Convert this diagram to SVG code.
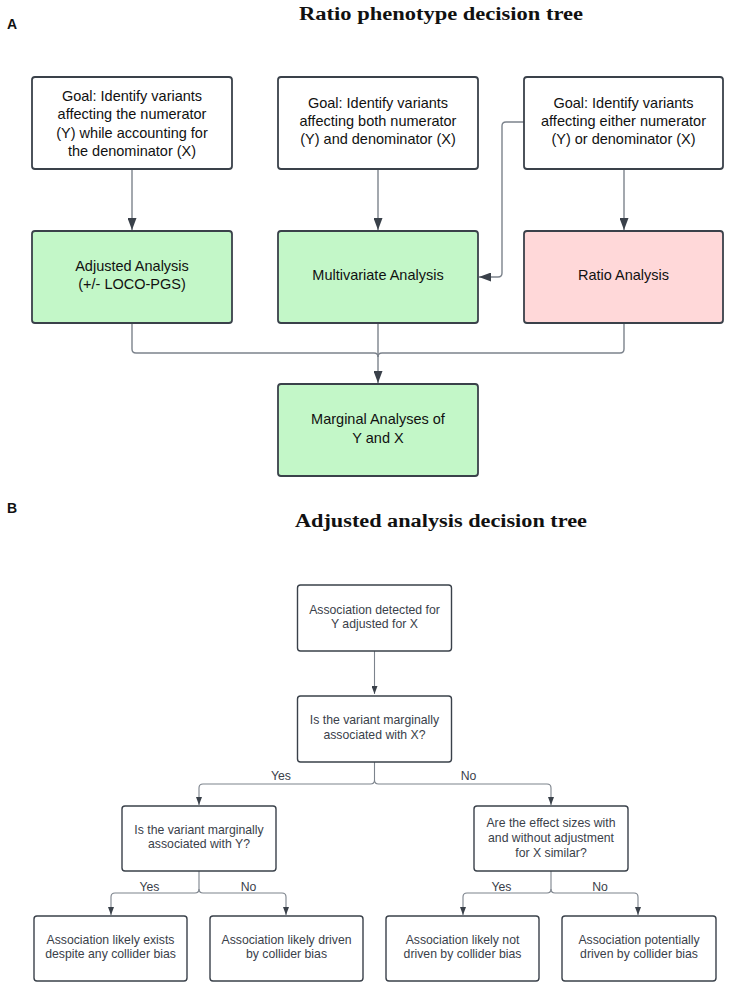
<svg xmlns="http://www.w3.org/2000/svg" width="729" height="988" viewBox="0 0 729 988">
<defs>
<style>
.bg{fill:#ffffff}
.title{font-family:"Liberation Serif","DejaVu Serif",serif;font-weight:bold;font-size:18px;fill:#111;text-anchor:middle}
.panel{font-family:"Liberation Sans","DejaVu Sans",sans-serif;font-weight:bold;font-size:14px;fill:#111}
.boxA{stroke:#3a414a;stroke-width:1.8;fill:#ffffff}
.green{fill:#c3f7c8}
.pink{fill:#ffd8d9}
.tA{font-family:"Liberation Sans","DejaVu Sans",sans-serif;font-size:14.5px;fill:#111;text-anchor:middle}
.boxB{stroke:#3a414a;stroke-width:1.4;fill:#ffffff}
.tB{font-family:"Liberation Sans","DejaVu Sans",sans-serif;font-size:12.25px;fill:#3a414a;text-anchor:middle}
.connA{fill:none;stroke:#7c838c;stroke-width:1.4}
.connB{fill:none;stroke:#7c838c;stroke-width:1.1}
</style>
<marker id="arrA" viewBox="0 0 12 9" refX="12" refY="4.5" markerWidth="12" markerHeight="9" markerUnits="userSpaceOnUse" orient="auto">
<path d="M0,0 L12,4.5 L0,9 z" fill="#3a414a"/>
</marker>
<marker id="arrB" viewBox="0 0 8 6" refX="8" refY="3" markerWidth="8" markerHeight="6" markerUnits="userSpaceOnUse" orient="auto">
<path d="M0,0 L8,3 L0,6 z" fill="#3a414a"/>
</marker>
</defs>
<rect class="bg" x="0" y="0" width="729" height="988"/>

<text class="panel" x="7" y="29">A</text>
<text class="title" x="441" y="20" textLength="284" lengthAdjust="spacingAndGlyphs">Ratio phenotype decision tree</text>

<g id="connectors-A">
<path class="connA" d="M132,169 V230" marker-end="url(#arrA)"/>
<path class="connA" d="M378,169 V230" marker-end="url(#arrA)"/>
<path class="connA" d="M624,169 V230" marker-end="url(#arrA)"/>
<path class="connA" d="M524,122 H506 Q502,122 502,126 V273 Q502,277 498,277 H479" marker-end="url(#arrA)"/>
<path class="connA" d="M132,323 V349 Q132,353 136,353 H374 Q378,353 378,357"/>
<path class="connA" d="M624,323 V349 Q624,353 620,353 H382 Q378,353 378,357"/>
<path class="connA" d="M378,323 V383" marker-end="url(#arrA)"/>
</g>

<g id="goalA">
<rect class="boxA" x="32" y="77" width="200" height="92" rx="3"/>
<text class="tA" x="132" y="101">Goal: Identify variants</text>
<text class="tA" x="132" y="119.3">affecting the numerator</text>
<text class="tA" x="132" y="137.7">(Y) while accounting for</text>
<text class="tA" x="132" y="156">the denominator (X)</text>
</g>
<g id="goalB">
<rect class="boxA" x="278" y="77" width="200" height="92" rx="3"/>
<text class="tA" x="378" y="107.7">Goal: Identify variants</text>
<text class="tA" x="378" y="126">affecting both numerator</text>
<text class="tA" x="378" y="144.3">(Y) and denominator (X)</text>
</g>
<g id="goalC">
<rect class="boxA" x="524" y="77" width="199" height="92" rx="3"/>
<text class="tA" x="623.5" y="107.7">Goal: Identify variants</text>
<text class="tA" x="623.5" y="126">affecting either numerator</text>
<text class="tA" x="623.5" y="144.3">(Y) or denominator (X)</text>
</g>
<g id="adjusted">
<rect class="boxA green" x="32" y="231" width="200" height="92" rx="3"/>
<text class="tA" x="132" y="271">Adjusted Analysis</text>
<text class="tA" x="132" y="289.3">(+/- LOCO-PGS)</text>
</g>
<g id="multivariate">
<rect class="boxA green" x="278" y="231" width="200" height="92" rx="3"/>
<text class="tA" x="378" y="280">Multivariate Analysis</text>
</g>
<g id="ratio">
<rect class="boxA pink" x="524" y="231" width="199" height="92" rx="3"/>
<text class="tA" x="623.5" y="280">Ratio Analysis</text>
</g>
<g id="marginal">
<rect class="boxA green" x="278" y="384" width="200" height="92" rx="3"/>
<text class="tA" x="378" y="424.3">Marginal Analyses of</text>
<text class="tA" x="378" y="442.7">Y and X</text>
</g>

<text class="panel" x="7" y="513">B</text>
<text class="title" x="441" y="527" textLength="292" lengthAdjust="spacingAndGlyphs">Adjusted analysis decision tree</text>

<g id="connectors-B">
<path class="connB" d="M374.5,651 V694" marker-end="url(#arrB)"/>
<path class="connB" d="M374.5,762 V780 Q374.5,784 370.5,784 H203 Q199,784 199,788 V805" marker-end="url(#arrB)"/>
<path class="connB" d="M374.5,780 Q374.5,784 378.5,784 H547 Q551,784 551,788 V805" marker-end="url(#arrB)"/>
<path class="connB" d="M199,871 V889 Q199,893 195,893 H115 Q111,893 111,897 V915" marker-end="url(#arrB)"/>
<path class="connB" d="M199,889 Q199,893 203,893 H282 Q286,893 286,897 V915" marker-end="url(#arrB)"/>
<path class="connB" d="M551,871 V889 Q551,893 547,893 H467 Q463,893 463,897 V915" marker-end="url(#arrB)"/>
<path class="connB" d="M551,889 Q551,893 555,893 H634 Q638,893 638,897 V915" marker-end="url(#arrB)"/>
<text class="tB" x="281" y="780.3">Yes</text>
<text class="tB" x="468.5" y="780.3">No</text>
<text class="tB" x="149.5" y="891">Yes</text>
<text class="tB" x="248.5" y="891">No</text>
<text class="tB" x="501.5" y="891">Yes</text>
<text class="tB" x="600" y="891">No</text>
</g>

<g id="detected">
<rect class="boxB" x="297.5" y="585" width="154" height="66" rx="3"/>
<text class="tB" x="374.5" y="613.6">Association detected for</text>
<text class="tB" x="374.5" y="628.3">Y adjusted for X</text>
</g>
<g id="marginalX">
<rect class="boxB" x="297.5" y="696" width="154" height="66" rx="3"/>
<text class="tB" x="374.5" y="724.3">Is the variant marginally</text>
<text class="tB" x="374.5" y="739.3">associated with X?</text>
</g>
<g id="marginalY">
<rect class="boxB" x="122" y="806" width="154" height="65" rx="3"/>
<text class="tB" x="199" y="834.3">Is the variant marginally</text>
<text class="tB" x="199" y="848.3">associated with Y?</text>
</g>
<g id="effectSizes">
<rect class="boxB" x="474" y="806" width="154" height="65" rx="3"/>
<text class="tB" x="551" y="827">Are the effect sizes with</text>
<text class="tB" x="551" y="842">and without adjustment</text>
<text class="tB" x="551" y="857">for X similar?</text>
</g>
<g id="exists">
<rect class="boxB" x="34" y="916" width="153" height="65" rx="3"/>
<text class="tB" x="110.5" y="944.3">Association likely exists</text>
<text class="tB" x="110.5" y="958.3">despite any collider bias</text>
</g>
<g id="drivenLikely">
<rect class="boxB" x="210" y="916" width="153" height="65" rx="3"/>
<text class="tB" x="286.5" y="944.3">Association likely driven</text>
<text class="tB" x="286.5" y="958.3">by collider bias</text>
</g>
<g id="notDriven">
<rect class="boxB" x="386" y="916" width="153" height="65" rx="3"/>
<text class="tB" x="462.5" y="944.3">Association likely not</text>
<text class="tB" x="462.5" y="958.3">driven by collider bias</text>
</g>
<g id="potentially">
<rect class="boxB" x="562" y="916" width="154" height="65" rx="3"/>
<text class="tB" x="639" y="944.3">Association potentially</text>
<text class="tB" x="639" y="958.3">driven by collider bias</text>
</g>
</svg>
